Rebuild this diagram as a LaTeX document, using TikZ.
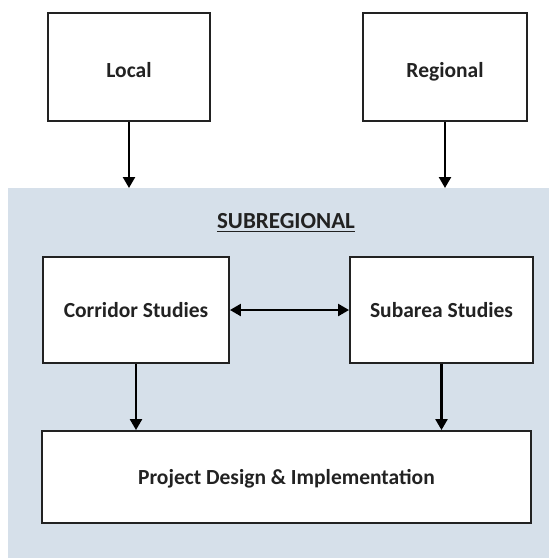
\documentclass[tikz,border=0pt]{standalone}
\usepackage{fontspec}
\setmainfont{Carlito}
\usetikzlibrary{arrows.meta}
\definecolor{panelblue}{RGB}{214,224,234}
\definecolor{inkgray}{RGB}{34,34,34}
\tikzset{
  box/.style={draw=inkgray, line width=1.9pt, fill=white, rectangle,
    inner sep=0pt, text height=17.6pt, text depth=3.6pt,
    font=\bfseries\fontsize{21.5}{24}\selectfont, text=inkgray},
  lowtext/.style={text height=23.6pt, text depth=3.6pt},
  flow/.style={line width=2.4pt, draw=black,
    -{Triangle[width=12pt,length=11pt]}},
  twoway/.style={line width=2.4pt, draw=black,
    {Triangle[width=12pt,length=11pt]}-{Triangle[width=12pt,length=11pt]}}
}
\begin{document}
\begin{tikzpicture}[x=1pt,y=-1pt]
  \useasboundingbox (0,0) rectangle (549,558);
  % subregional panel
  \fill[panelblue] (8,188) rectangle (549,558);

  % top-level boxes
  \node[box, lowtext, minimum width=162pt, minimum height=108pt] (local) at (129,67) {Local};
  \node[box, lowtext, minimum width=164pt, minimum height=108pt] (regional) at (445,67) {Regional};

  \coordinate (localin) at (129,188);
  \coordinate (regionalin) at (445,188);
  \draw[flow] (local.south) -- (localin);
  \draw[flow] (regional.south) -- (regionalin);

  % panel heading
  \node[font=\bfseries\fontsize{23}{26}\selectfont, text=inkgray, inner sep=0pt] (subregional) at (286,221)
    {SUBREGIONAL};
  \draw[inkgray, line width=1.4pt] ([yshift=-2.5pt]subregional.south west) -- ([yshift=-2.5pt]subregional.south east);

  % study boxes
  \node[box, minimum width=186pt, minimum height=106pt] (corridor) at (136,310) {Corridor Studies};
  \node[box, minimum width=183pt, minimum height=106pt] (subarea) at (441.5,310) {Subarea Studies};
  \draw[twoway] (corridor.east) -- (subarea.west);

  % implementation box
  \node[box, minimum width=489pt, minimum height=92pt] (project) at (286.5,477) {Project Design \& Implementation};
  \draw[flow] (corridor.south) -- (corridor.south |- project.north);
  \draw[flow] (subarea.south) -- (subarea.south |- project.north);
\end{tikzpicture}
\end{document}
